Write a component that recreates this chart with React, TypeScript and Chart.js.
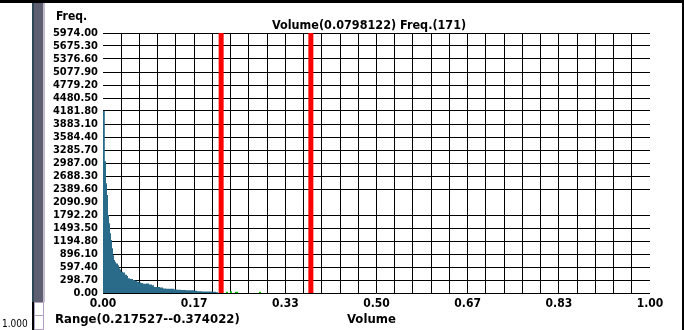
import React, { useEffect, useRef } from "react";
import { Chart, registerables } from "chart.js";

Chart.register(...registerables);

// ---- data ----
const histEdges = [
  0, 0, 0.0033, 0.00548, 0.00731, 0.00914, 0.01097, 0.0128, 0.01463, 0.01645, 0.01828,
  0.02011, 0.02194, 0.02377, 0.02742, 0.02925, 0.03108, 0.03291, 0.03656, 0.04022, 0.04388,
  0.0457, 0.04936, 0.05484, 0.0585, 0.06216, 0.06581, 0.06947, 0.07313, 0.07861, 0.0841,
  0.08958, 0.09324, 0.09872, 0.1042, 0.10969, 0.11517, 0.12249, 0.1298, 0.13528, 0.1426,
  0.15174, 0.15905, 0.16636, 0.17185, 0.18099, 0.19013, 0.19927, 0.20658, 0.21024,
];
const histFreq = [
  0, 4180, 3030, 2520, 2250, 1790, 1600, 1370, 1220, 1030, 870,
  760, 720, 680, 640, 570, 540, 490, 470, 420, 390,
  340, 320, 300, 280, 260, 240, 230, 215, 220, 195,
  180, 140, 135, 125, 105, 100, 95, 80, 72, 68,
  66, 62, 50, 40, 36, 33, 30, 20, 0,
];
const greenEdges = [0.2249, 0.2285, 0.2322, 0.2358, 0.2413, 0.2468, 0.2852, 0.2888];
const greenFreq = [30, 0, 40, 0, 30, 0, 30, 0];
const rangeMarkers = [0.216, 0.38];

const yTickLabels = [
  "0.00", "298.70", "597.40", "896.10", "1194.80", "1493.50", "1792.20", "2090.90",
  "2389.60", "2688.30", "2987.00", "3285.70", "3584.40", "3883.10", "4181.80",
  "4480.50", "4779.20", "5077.90", "5376.60", "5675.30", "5974.00",
];
const xTickLabels = ["0.00", "0.17", "0.33", "0.50", "0.67", "0.83", "1.00"];
const xGridDivisions = 30;
const hiddenYGridIndex = 7;

const titleText = "Volume(0.0798122) Freq.(171)";
const yAxisTitle = "Freq.";
const xAxisTitle = "Volume";
const rangeText = "Range(0.217527--0.374022)";
const sliderText = "1.000";

const FONT = "'DejaVu Sans Condensed', 'DejaVu Sans', sans-serif";
const TEAL = "#2b6b8a";

const decorPlugin = {
  id: "decor",
  beforeDraw(chart: any) {
    const ctx = chart.ctx;
    const w = chart.width;
    const h = chart.height;
    ctx.save();
    ctx.fillStyle = "#ffffff";
    ctx.fillRect(0, 0, w, h);
    ctx.fillStyle = "#000000";
    ctx.fillRect(0, 0, w, 3);
    ctx.fillRect(w - 2, 0, 2, h);
    // left slider widget
    ctx.fillStyle = "#2e4858";
    ctx.fillRect(32, 3, 2, 299);
    ctx.fillStyle = "#5f5f72";
    ctx.fillRect(34, 3, 9, 299);
    ctx.fillStyle = "#c4bccc";
    ctx.fillRect(43, 3, 2, 299);
    ctx.fillStyle = "#000000";
    ctx.fillRect(32, 302, 2, h - 302);
    ctx.fillStyle = "#ffffff";
    ctx.fillRect(34, 302, 10, h - 302);
    ctx.strokeStyle = "#b0a0c4";
    ctx.lineWidth = 1;
    ctx.strokeRect(34.5, 302.5, 9, 27);
    ctx.beginPath();
    ctx.moveTo(35, 315.5);
    ctx.lineTo(43, 315.5);
    ctx.stroke();
    ctx.restore();
  },
  afterDraw(chart: any) {
    const ctx = chart.ctx;
    ctx.save();
    ctx.fillStyle = "#000000";
    ctx.textBaseline = "alphabetic";
    ctx.textAlign = "left";
    ctx.font = `bold 12px ${FONT}`;
    ctx.fillText(yAxisTitle, 56, 20);
    ctx.font = `bold 12.5px ${FONT}`;
    ctx.fillText(titleText, 272, 29);
    ctx.font = `bold 13px ${FONT}`;
    ctx.fillText(rangeText, 55, 323);
    ctx.fillText(xAxisTitle, 347, 323);
    ctx.font = `10px ${FONT}`;
    ctx.fillText(sliderText, 2, 327);
    ctx.restore();
  },
};

export default function App() {
  const ref = useRef<HTMLCanvasElement>(null);

  useEffect(() => {
    const canvas = ref.current;
    if (!canvas) return;
    const yTickValues = yTickLabels.map((s) => parseFloat(s));
    const yMax = yTickValues[yTickValues.length - 1];
    const xTickValues = Array.from({ length: xGridDivisions + 1 }, (_, i) => i / xGridDivisions);
    const perLabel = xGridDivisions / (xTickLabels.length - 1);

    const datasets: any[] = [
      {
        data: histEdges.map((x, i) => ({ x, y: histFreq[i] })),
        stepped: "before",
        fill: "origin",
        backgroundColor: TEAL,
        borderColor: "transparent",
        borderWidth: 0,
        pointRadius: 0,
        clip: 3,
        order: 2,
      },
      {
        data: greenEdges.map((x, i) => ({ x, y: greenFreq[i] })),
        stepped: "before",
        fill: "origin",
        backgroundColor: "#00c000",
        borderColor: "transparent",
        borderWidth: 0,
        pointRadius: 0,
        order: 2,
      },
      ...rangeMarkers.map((r) => ({
        data: [
          { x: r, y: 0 },
          { x: r, y: yMax },
        ],
        borderColor: "#ff0000",
        borderWidth: 5,
        pointRadius: 0,
        fill: false,
        order: 1,
      })),
    ];

    const chart = new Chart(canvas, {
      type: "line",
      data: { datasets },
      plugins: [decorPlugin],
      options: {
        responsive: false,
        animation: false,
        events: [],
        layout: { padding: { top: 33, right: 34, bottom: 0, left: 0 } },
        plugins: {
          legend: { display: false },
          tooltip: { enabled: false },
          title: { display: false },
        },
        scales: {
          x: {
            type: "linear",
            min: 0,
            max: 1,
            afterBuildTicks: (scale: any) => {
              scale.ticks = xTickValues.map((v) => ({ value: v }));
            },
            afterFit: (scale: any) => {
              scale.height = 37;
            },
            ticks: {
              autoSkip: false,
              maxRotation: 0,
              padding: 4,
              color: "#000000",
              font: { family: FONT, size: 12, weight: "bold" },
              callback: (_v: any, i: number) =>
                i % perLabel === 0 ? xTickLabels[i / perLabel] : "",
            },
            grid: {
              drawTicks: false,
              lineWidth: 1,
              color: (c: any) =>
                c.index === 0 || c.index === xGridDivisions ? "rgba(0,0,0,0)" : "#000000",
            },
            border: { display: false },
          },
          y: {
            type: "linear",
            min: 0,
            max: yMax,
            afterBuildTicks: (scale: any) => {
              scale.ticks = yTickValues.map((v) => ({ value: v }));
            },
            afterFit: (scale: any) => {
              scale.width = 103;
            },
            ticks: {
              autoSkip: false,
              padding: 5,
              color: "#000000",
              font: { family: FONT, size: 11, weight: "bold" },
              callback: (_v: any, i: number) => yTickLabels[i],
            },
            grid: {
              drawTicks: false,
              lineWidth: 1,
              color: (c: any) => (c.index === hiddenYGridIndex ? "rgba(0,0,0,0)" : "#000000"),
            },
            border: { display: false },
          },
        },
      } as any,
    });
    return () => chart.destroy();
  }, []);

  return (
    <div
      style={{
        position: "fixed",
        left: 0,
        top: 0,
        width: 684,
        height: 330,
        background: "#ffffff",
      }}
    >
      <canvas ref={ref} width={684} height={330} style={{ display: "block" }} />
    </div>
  );
}
